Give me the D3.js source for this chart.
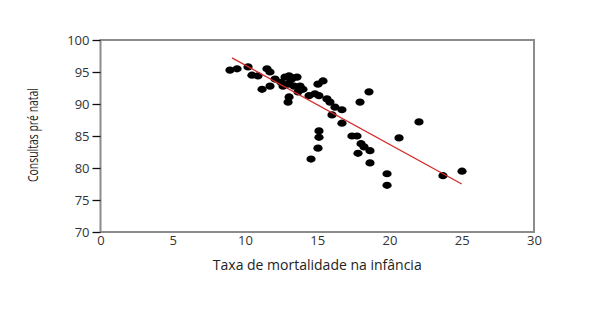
<!DOCTYPE html>
<meta charset="utf-8">
<script src="https://d3js.org/d3.v7.min.js"></script>
<style>
  body { margin: 0; background: #fff; }
  text { font-family: "Open Sans", "DejaVu Sans", sans-serif; }
</style>
<body>
<div id="chart"></div>
<script>
// mortality rate (x) vs prenatal visits (y)
var mortality = [8.96, 9.45, 10.21, 10.48, 10.90, 11.18, 11.73, 11.52, 11.73, 12.08,
  12.49, 12.77, 13.05, 13.32, 13.60, 12.98, 13.39, 13.81, 14.01, 13.67,
  13.05, 12.98, 14.43, 14.84, 15.05, 15.40, 15.12, 15.67, 15.88, 16.23,
  16.71, 16.02, 16.71, 17.96, 18.58, 15.12, 15.12, 15.05, 14.57, 17.40,
  17.75, 18.03, 18.24, 18.65, 17.82, 18.65, 19.83, 19.83, 22.04, 20.66,
  23.70, 25.02, 12.63, 13.18];
var consultas = [95.3, 95.5, 95.8, 94.5, 94.4, 92.3, 92.8, 95.5, 95.0, 93.9,
  93.4, 94.2, 94.4, 94.1, 94.2, 93.1, 92.8, 92.8, 92.3, 91.9,
  91.1, 90.3, 91.3, 91.6, 93.1, 93.6, 91.3, 90.8, 90.3, 89.5,
  89.1, 88.3, 87.0, 90.3, 91.9, 85.8, 84.8, 83.1, 81.4, 85.0,
  85.0, 83.8, 83.3, 82.7, 82.3, 80.8, 79.1, 77.3, 87.2, 84.7,
  78.8, 79.5, 92.8, 93.8];
// trend line end points
var trendX = [9.1, 25.0];
var trendY = [97.2, 77.5];

var xTicks = [0, 5, 10, 15, 20, 25, 30];
var yTicks = [70, 75, 80, 85, 90, 95, 100];

var margin = {top: 40, right: 80, bottom: 81, left: 100.5},
    width = 614 - margin.left - margin.right,
    height = 314 - margin.top - margin.bottom;

var svg = d3.select("#chart")
  .append("svg")
    .attr("width", 614)
    .attr("height", 314)
  .append("g")
    .attr("transform", "translate(" + margin.left + "," + margin.top + ")");

var x = d3.scaleLinear().domain([0, 30]).range([0, 433.5]);
var y = d3.scaleLinear().domain([70, 100]).range([192, 0]);

// frame
svg.append("rect")
  .attr("x", 0).attr("y", 0)
  .attr("width", x(30)).attr("height", y(70))
  .attr("fill", "none")
  .attr("stroke", "#8c8c8c")
  .attr("stroke-width", 2);

// y axis ticks
var yAxis = svg.append("g")
  .call(d3.axisLeft(y).tickValues(yTicks).tickSize(8).tickPadding(3));
yAxis.select(".domain").remove();
yAxis.selectAll(".tick line").attr("stroke", "#111").attr("stroke-width", 1.3);
yAxis.selectAll(".tick text").style("font-size", "13px").attr("fill", "#333");

// x axis labels only
var xAxis = svg.append("g")
  .attr("transform", "translate(0," + y(70) + ")")
  .call(d3.axisBottom(x).tickValues(xTicks).tickSize(0).tickPadding(4));
xAxis.select(".domain").remove();
xAxis.selectAll(".tick text").style("font-size", "13px").attr("fill", "#333");

// points
svg.append("g")
  .selectAll("ellipse")
  .data(mortality)
  .enter()
  .append("ellipse")
    .attr("cx", function(d) { return x(d); })
    .attr("cy", function(d, i) { return y(consultas[i]); })
    .attr("rx", 4.6)
    .attr("ry", 3.6)
    .attr("fill", "#000");

// trend line
svg.append("path")
  .datum(trendX.map(function(d, i) { return [d, trendY[i]]; }))
  .attr("fill", "none")
  .attr("stroke", "#d42a2a")
  .attr("stroke-width", 1.3)
  .attr("d", d3.line()
    .x(function(d) { return x(d[0]); })
    .y(function(d) { return y(d[1]); }));

// titles
svg.append("text")
  .attr("x", x(15))
  .attr("y", y(70) + 38)
  .attr("text-anchor", "middle")
  .style("font-size", "14px")
  .attr("fill", "#222")
  .text("Taxa de mortalidade na infância");

// condensed y title
svg.append("text")
  .attr("transform", "translate(-63," + (y(85) - 1) + ") rotate(-90)")
  .attr("text-anchor", "middle")
  .attr("textLength", 94)
  .attr("lengthAdjust", "spacingAndGlyphs")
  .style("font-size", "14px")
  .attr("fill", "#222")
  .text("Consultas pré natal");
</script>
</body>
